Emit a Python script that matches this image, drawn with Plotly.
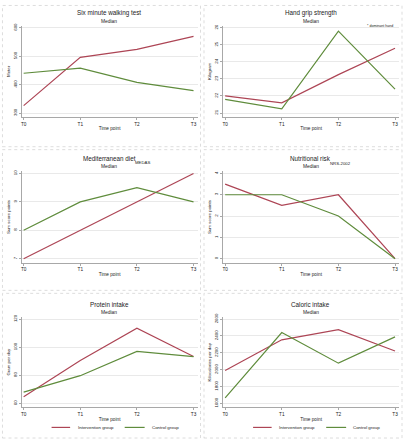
import plotly.graph_objects as go

W, H = 404, 440
FONT = "Liberation Sans, Arial, sans-serif"
RED = "#ad4555"
GREEN = "#5f8c3c"
AX = "#a8a8a8"

time_points = ["T0", "T1", "T2", "T3"]

# Panel data (medians)
walk_int = [326, 496, 524, 570]
walk_ctl = [440, 458, 408, 379]
grip_int = [22.0, 21.6, 23.25, 24.8]
grip_ctl = [21.8, 21.25, 25.8, 22.4]
medas_int = [7, 8, 9, 10]
medas_ctl = [8, 9, 9.5, 9]
nrs_int = [3.5, 2.5, 3, 0]
nrs_ctl = [3, 3, 2, 0]
protein_int = [64.7, 90.5, 113.5, 93.3]
protein_ctl = [68, 79.7, 97, 93.3]
kcal_int = [1990, 2354, 2475, 2221]
kcal_ctl = [1666, 2440, 2077, 2389]

walk_ticks = [300, 400, 500, 600]
grip_ticks = [21, 22, 23, 24, 25, 26]
medas_ticks = [7, 8, 9, 10]
nrs_ticks = [0, 1, 2, 3, 4]
protein_ticks = [60, 80, 100, 120]
kcal_ticks = [1600, 1800, 2000, 2200, 2400, 2600]

titles = ["Six minute walking test", "Hand grip strength", "Mediterranean diet",
          "Nutritional risk", "Protein intake", "Caloric intake"]
ytitles = ["Meter", "Kilogram", "Sum score points", "Sum score points",
           "Gram per day", "Kilocalories per day"]

panels = [
    (walk_int, walk_ctl, walk_ticks),
    (grip_int, grip_ctl, grip_ticks),
    (medas_int, medas_ctl, medas_ticks),
    (nrs_int, nrs_ctl, nrs_ticks),
    (protein_int, protein_ctl, protein_ticks),
    (kcal_int, kcal_ctl, kcal_ticks),
]

# pixel geometry per row: (tick max y, tick min y, x-axis line y, title y, median y)
rows = [(24, 110, 114, 9, 18), (171, 257, 261, 156, 164), (318, 403, 407, 303, 311)]
XL, XR, X0, X3 = 20.7, 197.0, 22.7, 193.0


def fy(p):
    return 1 - p / H


def fx(p):
    return p / W


fig = go.Figure()
layout = dict(width=W, height=H, margin=dict(l=0, r=0, t=0, b=0),
              paper_bgcolor="white", plot_bgcolor="white", showlegend=False,
              font=dict(family=FONT, color="#222"))
annotations = []
shapes = []

for i, (yi, yc, ticks) in enumerate(panels):
    r, c = divmod(i, 2)
    ytop, ybot, yax, yt, ym = rows[r]
    off = c * 202
    n = "" if i == 0 else str(i + 1)
    tmin, tmax = ticks[0], ticks[-1]
    per = (tmax - tmin) / (ybot - ytop)
    dtop = ytop - 2
    yrange = [tmin - (yax - ybot) * per, tmax + (ytop - dtop) * per]
    upx = 3 / (X3 - X0)
    xrange = [-(X0 - XL) * upx, 3 + (XR - X3) * upx]

    for vals, col, name in ((yi, RED, "Intervention group"), (yc, GREEN, "Control group")):
        fig.add_trace(go.Scatter(x=list(range(4)), y=vals, mode="lines", name=name,
                                 line=dict(color=col, width=1.2),
                                 xaxis="x" + n, yaxis="y" + n))

    layout["xaxis" + n] = dict(
        domain=[fx(off + XL), fx(off + XR)], range=xrange, anchor="y" + n,
        tickvals=list(range(4)), ticktext=time_points, showgrid=False, zeroline=False,
        showline=True, linecolor=AX, linewidth=1, ticks="outside", ticklen=2,
        tickcolor=AX, tickfont=dict(size=4.7, family=FONT),
        title=dict(text="Time point", font=dict(size=4.7, family=FONT), standoff=1))
    layout["yaxis" + n] = dict(
        domain=[fy(yax), fy(dtop)], range=yrange, anchor="x" + n,
        tickvals=ticks, ticktext=[str(t) for t in ticks], tickangle=-90,
        showgrid=True, gridcolor="#e9e9e9", gridwidth=0.7, zeroline=False,
        showline=True, linecolor=AX, linewidth=1, ticks="outside", ticklen=2,
        tickcolor=AX, tickfont=dict(size=4.4, family=FONT),
        title=dict(text=ytitles[i], font=dict(size=4.4, family=FONT), standoff=2))

    cx = off + 108.5
    annotations.append(dict(text=titles[i], x=fx(cx), y=fy(yt), xref="paper", yref="paper",
                            showarrow=False, font=dict(size=6.3, family=FONT),
                            xanchor="center", yanchor="middle"))
    annotations.append(dict(text="Median", x=fx(cx), y=fy(ym), xref="paper", yref="paper",
                            showarrow=False, font=dict(size=4.9, family=FONT),
                            xanchor="center", yanchor="middle"))

    # panel border
    shapes.append(dict(type="rect", xref="paper", yref="paper",
                       x0=fx(off + 1.5), x1=fx(off + 200), y0=fy([144, 289, 438][r]),
                       y1=fy([1.5, 147, 292][r]),
                       line=dict(color="#d4d4d4", width=0.8, dash="dot")))

    if r == 2:
        ly = 427.3
        for (xa, xb, xt, col, lab) in ((50.7, 69.3, 75, RED, "Intervention group"),
                                       (124, 144, 149, GREEN, "Control group")):
            shapes.append(dict(type="line", xref="paper", yref="paper",
                               x0=fx(off + xa), x1=fx(off + xb), y0=fy(ly), y1=fy(ly),
                               line=dict(color=col, width=1.2)))
            annotations.append(dict(text=lab, x=fx(off + xt), y=fy(ly), xref="paper",
                                    yref="paper", showarrow=False,
                                    font=dict(size=4.4, family=FONT),
                                    xanchor="left", yanchor="middle"))

annotations.append(dict(text="* dominant hand", x=fx(380), y=fy(22.7), xref="paper",
                        yref="paper", showarrow=False, font=dict(size=3.6, family=FONT),
                        xanchor="center", yanchor="middle"))
annotations.append(dict(text="MEDAS", x=fx(141.5), y=fy(160), xref="paper",
                        yref="paper", showarrow=False, font=dict(size=4.3, family=FONT),
                        xanchor="center", yanchor="middle"))
annotations.append(dict(text="NRS-2002", x=fx(340), y=fy(160.7), xref="paper",
                        yref="paper", showarrow=False, font=dict(size=4.3, family=FONT),
                        xanchor="center", yanchor="middle"))

layout["annotations"] = annotations
layout["shapes"] = shapes
fig.update_layout(**layout)
fig.write_html("out.html", config={"displayModeBar": False},
               post_script="document.body.style.margin='0';document.body.style.overflow='hidden';")
